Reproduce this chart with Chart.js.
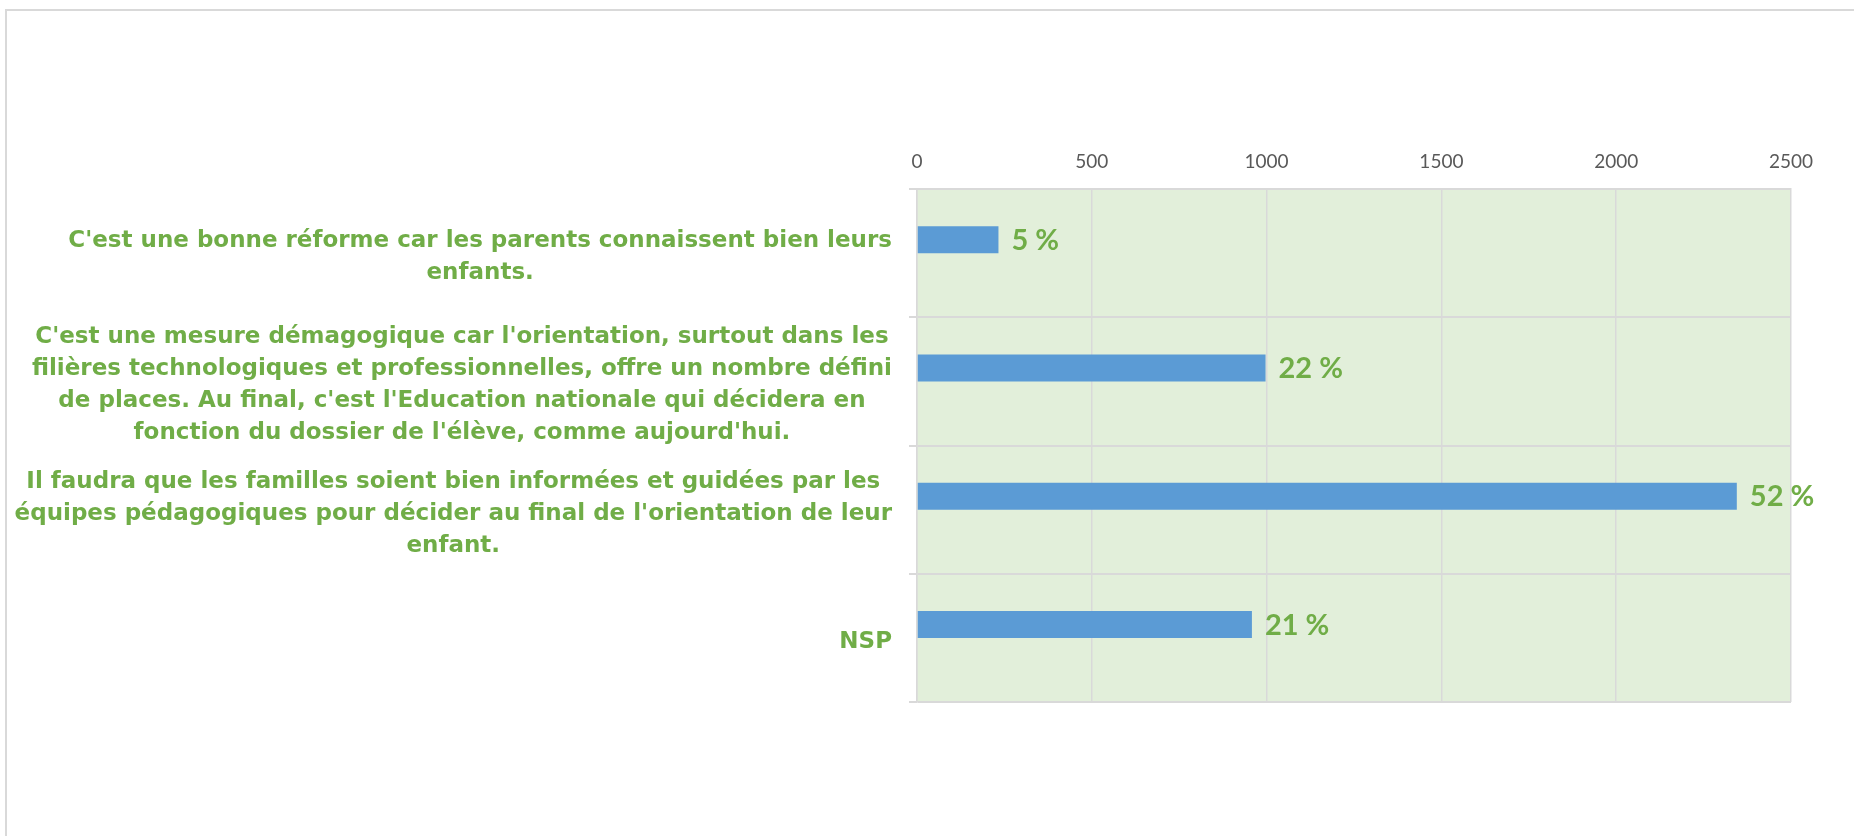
<!DOCTYPE html>
<html>
<head>
<meta charset="utf-8">
<script src="https://cdn.jsdelivr.net/npm/chart.js@4"></script>
<style>
  html, body { margin: 0; padding: 0; background: #ffffff; }
  #wrap { position: relative; width: 1854px; height: 836px; }
  #frame { position: absolute; left: 5px; top: 9px; right: -4px; bottom: -4px; border: 2px solid #d9d9d9; }
  canvas { position: absolute; left: 0; top: 0; }
</style>
</head>
<body>
<div id="wrap">
  <div id="frame"></div>
  <canvas id="chart" width="1854" height="836"></canvas>
</div>
<script>
const categories = [
  ["C'est une bonne réforme car les parents connaissent bien leurs", "enfants."],
  ["C'est une mesure démagogique car l'orientation, surtout dans les",
   "filières technologiques et professionnelles, offre un nombre défini",
   "de places. Au final, c'est l'Education nationale qui décidera en",
   "fonction du dossier de l'élève, comme aujourd'hui."],
  ["Il faudra que les familles soient bien informées et guidées par les",
   "équipes pédagogiques pour décider au final de l'orientation de leur",
   "enfant."],
  ["NSP"]
];
const values = [233, 997, 2345, 958];
// the source chart keeps an empty second series, which pushes the bars up
const emptySeries = [null, null, null, null];
const percentLabels = ["5 %", "22 %", "52 %", "21 %"];
const xTicks = [0, 500, 1000, 1500, 2000, 2500];

const GREEN = "#70ad47";
const LABEL_FONT = "bold 23px 'DejaVu Sans'";
const LINE_H = 32;

// light green plot background
const plotBg = {
  id: "plotBg",
  beforeDraw(chart) {
    const a = chart.chartArea, c = chart.ctx;
    c.save();
    c.fillStyle = "#e2efda";
    c.fillRect(a.left, a.top, a.right - a.left, a.bottom - a.top);
    c.restore();
  }
};

// category labels: each block right-aligned, its lines centred inside it
const catLabels = {
  id: "catLabels",
  afterDraw(chart) {
    const c = chart.ctx, y = chart.scales.y;
    const right = chart.chartArea.left - 25;
    c.save();
    c.font = LABEL_FONT;
    c.fillStyle = GREEN;
    c.textAlign = "center";
    c.textBaseline = "middle";
    categories.forEach((lines, i) => {
      const w = Math.max(...lines.map(l => c.measureText(l).width));
      const cx = right - w / 2;
      const cy = y.getPixelForTick(i) + 4;
      lines.forEach((l, k) => {
        c.fillText(l, cx, cy + (k - (lines.length - 1) / 2) * LINE_H);
      });
    });
    c.restore();
  }
};

// percentage labels at the end of each bar
const barLabels = {
  id: "barLabels",
  afterDatasetsDraw(chart) {
    const c = chart.ctx;
    const meta = chart.getDatasetMeta(0);
    c.save();
    c.font = "bold 29px Lato";
    c.fillStyle = GREEN;
    c.textAlign = "left";
    c.textBaseline = "middle";
    meta.data.forEach((bar, i) => {
      c.fillText(percentLabels[i], bar.x + 13, bar.y + 1);
    });
    c.restore();
  }
};

new Chart(document.getElementById("chart").getContext("2d"), {
  type: "bar",
  data: {
    labels: categories,
    datasets: [{
      data: values,
      backgroundColor: "#5b9bd5",
      borderWidth: 0,
      categoryPercentage: 0.421,
      barPercentage: 1,
    }, {
      data: emptySeries,
      backgroundColor: "#ed7d31",
      borderWidth: 0,
      categoryPercentage: 0.421,
      barPercentage: 1,
    }],
  },
  options: {
    indexAxis: "y",
    responsive: false,
    animation: false,
    layout: { padding: { left: 10, right: 63, top: 140, bottom: 134 } },
    plugins: {
      legend: { display: false },
      tooltip: { enabled: false },
    },
    scales: {
      x: {
        position: "top",
        min: 0,
        max: 2500,
        afterBuildTicks: (s) => { s.ticks = xTicks.map(v => ({ value: v })); },
        grid: { color: "#d9d9d9", lineWidth: 1.5, drawTicks: false },
        border: { color: "#d9d9d9", width: 2 },
        ticks: {
          color: "#595959",
          font: { family: "Lato", size: 19 },
          padding: 16,
          callback: (v) => String(v),
        },
        afterFit: (s) => { s.height = 49; },
      },
      y: {
        grid: { color: "#d9d9d9", lineWidth: 2, tickLength: 8, offset: true },
        border: { color: "#d9d9d9", width: 1.5 },
        ticks: { color: "rgba(0,0,0,0)", font: { size: 12 } },
        afterFit: (s) => { s.width = 907; },
      },
    },
  },
  plugins: [plotBg, catLabels, barLabels],
});
</script>
</body>
</html>
